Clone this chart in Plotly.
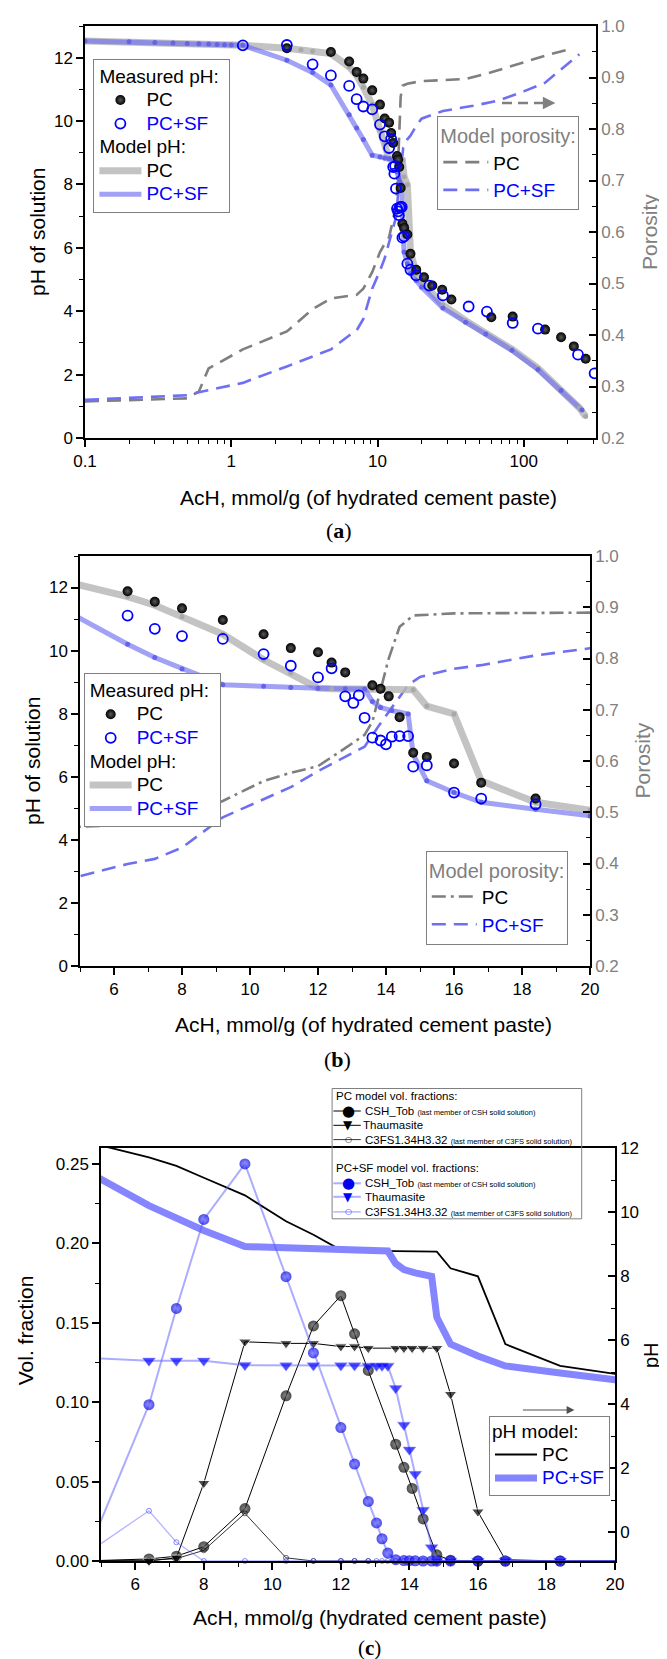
import plotly.graph_objects as go

W, H = 667, 1659

# ---------------- data ----------------
# measured pH
meas_pc_x = [2.4, 4.8, 6.4, 7.2, 8.0, 9.2, 10.4, 11.2, 12.0, 12.4, 12.8, 13.6, 13.84, 14.08, 14.4, 14.8, 15.2,
             16.0, 16.8, 18.4, 20.8, 23.7, 27.7, 32.0, 60.0, 84.0, 140.0, 180.0, 220.0, 265.0]
meas_pc_ph = [12.3, 12.18, 11.88, 11.55, 11.34, 10.97, 10.52, 10.08, 9.95, 9.62, 9.31, 8.9, 8.79, 8.55, 7.89, 6.76,
              6.63, 6.42, 5.81, 5.31, 5.07, 4.81, 4.68, 4.37, 3.81, 3.83, 3.42, 3.18, 2.89, 2.5]
meas_sf_x = [1.2, 2.4, 3.6, 4.8, 6.4, 7.2, 8.0, 9.2, 10.4, 11.2, 12.0, 12.4, 12.8, 13.04, 13.2, 13.37, 13.6, 13.84,
             14.0, 14.17, 14.4, 14.65, 14.8, 15.2, 16.0, 16.8, 18.4, 22.6, 28.0, 42.0, 56.0, 84.0, 125.0, 235.0, 305.0]
meas_sf_ph = [12.39, 12.4, 11.79, 11.44, 11.11, 10.69, 10.46, 10.37, 9.89, 9.52, 9.15, 9.44, 8.55, 8.34, 8.58, 7.87,
              7.24, 7.15, 7.03, 7.27, 7.29, 7.29, 6.32, 6.36, 5.5, 5.31, 5.13, 4.81, 4.5, 4.15, 3.99, 3.63, 3.45,
              2.63, 2.04]

# model pH
model_pc_x = [0.1, 0.2, 0.3, 0.4, 0.5, 0.6, 0.7, 0.8, 0.9, 1.0, 1.2, 2.4, 3.0, 3.6, 4.8, 6.4, 7.2, 8.0, 9.2, 10.4,
              11.2, 12.0, 12.4, 12.8, 13.6, 14.8, 15.2, 16.0, 16.8, 18.4, 20.0, 28.0, 40.0, 55.0, 83.0, 125.0,
              180.0, 240.0, 265.0]
model_pc_ph = [12.53, 12.5, 12.48, 12.46, 12.45, 12.44, 12.43, 12.42, 12.41, 12.4, 12.39, 12.3, 12.25, 12.2, 12.13,
               11.71, 11.44, 11.07, 10.52, 9.71, 9.29, 8.81, 8.79, 8.79, 8.78, 8.76, 8.24, 7.99, 5.87, 5.19, 4.94,
               4.2, 3.7, 3.3, 2.8, 2.2, 1.5, 0.95, 0.68]
model_sf_x = [0.1, 0.2, 0.3, 0.4, 0.5, 0.6, 0.7, 0.8, 0.9, 1.0, 1.2, 2.4, 3.6, 4.8, 6.4, 7.2, 8.0, 9.2, 10.4, 11.2,
              12.0, 12.8, 13.37, 13.6, 13.84, 14.17, 14.65, 14.8, 15.2, 16.0, 16.8, 18.4, 20.0, 28.0, 40.0, 55.0,
              83.0, 125.0, 180.0, 250.0]
model_sf_ph = [12.53, 12.5, 12.48, 12.46, 12.45, 12.44, 12.43, 12.42, 12.41, 12.4, 12.39, 11.92, 11.53, 11.14, 10.2,
               9.78, 9.42, 8.92, 8.87, 8.83, 8.81, 8.79, 8.78, 8.39, 8.2, 8.1, 7.99, 6.71, 5.87, 5.5, 5.19, 4.97,
               4.76, 4.1, 3.65, 3.28, 2.77, 2.16, 1.5, 0.88]

# model porosity
por_pc_x = [0.1, 0.5, 0.6, 0.7, 1.2, 2.4, 3.6, 4.8, 7.2, 8.0, 9.2, 10.4, 11.2, 12.0, 12.8, 13.37, 13.6, 13.84,
            14.08, 14.4, 14.8, 16.0, 20.0, 40.0, 60.0, 100.0, 150.0, 195.0]
por_pc = [0.271, 0.277, 0.29, 0.335, 0.372, 0.407, 0.45, 0.471, 0.478, 0.49, 0.522, 0.561, 0.577, 0.59, 0.625,
          0.651, 0.677, 0.74, 0.80, 0.862, 0.884, 0.888, 0.893, 0.897, 0.91, 0.93, 0.945, 0.953]
por_sf_x = [0.1, 0.5, 0.6, 1.2, 2.4, 4.8, 6.4, 7.2, 8.0, 9.2, 10.4, 11.2, 12.0, 12.8, 13.37, 13.8, 14.17, 14.65,
            15.0, 16.0, 16.8, 18.4, 20.0, 28.0, 45.0, 67.0, 100.0, 140.0, 180.0, 240.0]
por_sf = [0.274, 0.283, 0.289, 0.307, 0.339, 0.372, 0.399, 0.409, 0.431, 0.49, 0.525, 0.549, 0.58, 0.609, 0.628,
          0.67, 0.703, 0.748, 0.764, 0.78, 0.787, 0.806, 0.82, 0.835, 0.845, 0.855, 0.873, 0.89, 0.915, 0.945]

# model volume fractions
vol_pc_x = [4.8, 6.4, 7.2, 8.0, 9.2, 10.4, 11.2, 12.0, 12.4, 12.8, 13.6, 13.84, 14.08, 14.4, 14.8, 15.2, 16.0,
            16.8, 18.4, 20.8]
vol_pc_csh = [0.0002, 0.0013, 0.003, 0.009, 0.033, 0.104, 0.148, 0.167, 0.143, 0.12, 0.0735, 0.059, 0.0457,
              0.0265, 0.0039, 0.0005, 0.0, 0.0, 0.0, 0.0]
vol_pc_thaum = [0.0, 0.0, 0.002, 0.049, 0.138, 0.137, 0.137, 0.135, 0.135, 0.134, 0.134, 0.134, 0.134, 0.134,
                0.134, 0.105, 0.031, 0.0008, 0.0, 0.0]
vol_pc_c3fs = [0.0003, 0.0005, 0.0015, 0.0067, 0.03, 0.002, 0.0, 0.0, 0.0, 0.0, 0.0, 0.0, 0.0, 0.0, 0.0, 0.0,
               0.0, 0.0, 0.0, 0.0]
vol_sf_x = [4.8, 6.4, 7.2, 8.0, 9.2, 10.4, 11.2, 12.0, 12.4, 12.8, 13.04, 13.2, 13.37, 13.6, 13.84, 14.0, 14.17,
            14.4, 14.65, 14.8, 15.2, 16.0, 16.8, 18.4, 20.8]
vol_sf_csh = [0.015, 0.0984, 0.159, 0.215, 0.25, 0.179, 0.131, 0.084, 0.061, 0.0375, 0.024, 0.014, 0.005, 0.0008,
              0.0003, 0.0002, 0.0001, 0.0, 0.0, 0.0, 0.0, 0.0, 0.0, 0.0, 0.0]
vol_sf_thaum = [0.1277, 0.126, 0.126, 0.126, 0.1233, 0.123, 0.123, 0.123, 0.123, 0.1228, 0.1228, 0.1228, 0.1228,
                0.1087, 0.0856, 0.070, 0.0547, 0.0321, 0.0085, 0.0, 0.0, 0.0, 0.0, 0.0, 0.0]
vol_sf_c3fs = [0.008, 0.0316, 0.0118, 0.0, 0.0, 0.0, 0.0, 0.0, 0.0, 0.0, 0.0, 0.0, 0.0, 0.0, 0.0, 0.0, 0.0, 0.0,
               0.0, 0.0, 0.0, 0.0, 0.0, 0.0, 0.0]

log_tick_vals = [0.1, 1, 10, 100]
log_tick_text = ["0.1", "1", "10", "100"]
log_minor_vals = [0.2, 0.3, 0.4, 0.5, 0.6, 0.7, 0.8, 0.9, 2, 3, 4, 5, 6, 7, 8, 9,
                  20, 30, 40, 50, 60, 70, 80, 90, 200, 300]

# ---------------- helpers ----------------
def px(x):
    return x / W


def py(y):
    return 1 - y / H


FONT = "Liberation Sans, Arial, sans-serif"
SERIF = "Liberation Serif, DejaVu Serif, serif"
GREY = "#808080"
BLUE = "#0000ff"
GREY_LINE = "rgba(185,185,185,0.85)"
BLUE_LINE = "rgba(110,110,240,0.65)"


def big(t, color=None, size=19):
    st = "font-size:%spx" % size
    if color:
        st += ";color:%s" % color
    return "<span style='%s'>%s</span>" % (st, t)


fig = go.Figure()

sphere_black = dict(symbol="circle", color="black", size=10,
                    gradient=dict(type="radial", color="#5a5a5a"), line=dict(width=0))
open_blue = dict(symbol="circle-open", color=BLUE, size=10, line=dict(width=1.8, color=BLUE))


def add_ph_panel(xa, ypor, yph, legA, legB, por_pc_dash, grp):
    # porosity (base axis, drawn below)
    fig.add_trace(go.Scatter(x=por_pc_x, y=por_pc, xaxis=xa, yaxis=ypor, mode="lines",
                             line=dict(color="#7f7f7f", width=2.6, dash=por_pc_dash),
                             name="PC", legend=legB, legendrank=1))
    fig.add_trace(go.Scatter(x=por_sf_x, y=por_sf, xaxis=xa, yaxis=ypor, mode="lines",
                             line=dict(color="#6f6ff2", width=2.6, dash="14px,8px"),
                             name=big("PC+SF", BLUE), legend=legB, legendrank=2))
    # model pH lines
    fig.add_trace(go.Scatter(x=model_pc_x, y=model_pc_ph, xaxis=xa, yaxis=yph, mode="lines",
                             line=dict(color=GREY_LINE, width=7), name=big("PC"), legend=legA,
                             legendgroup=grp + "model", legendrank=3,
                             legendgrouptitle=dict(text=big("Model pH:"), font=dict(size=15.8, family=FONT))))
    fig.add_trace(go.Scatter(x=model_sf_x, y=model_sf_ph, xaxis=xa, yaxis=yph, mode="lines",
                             line=dict(color=BLUE_LINE, width=5), name=big("PC+SF", BLUE), legend=legA,
                             legendgroup=grp + "model", legendrank=4))
    fig.add_trace(go.Scatter(x=model_pc_x, y=model_pc_ph, xaxis=xa, yaxis=yph, mode="markers",
                             marker=dict(color="#a8a8a8", size=5), showlegend=False, hoverinfo="skip"))
    fig.add_trace(go.Scatter(x=model_sf_x, y=model_sf_ph, xaxis=xa, yaxis=yph, mode="markers",
                             marker=dict(color="#6464ea", size=5), showlegend=False, hoverinfo="skip"))
    # measured
    fig.add_trace(go.Scatter(x=meas_pc_x, y=meas_pc_ph, xaxis=xa, yaxis=yph, mode="markers",
                             marker=sphere_black, name=big("PC"), legend=legA, legendgroup=grp + "meas",
                             legendrank=1,
                             legendgrouptitle=dict(text=big("Measured pH:"), font=dict(size=15.8, family=FONT))))
    fig.add_trace(go.Scatter(x=meas_sf_x, y=meas_sf_ph, xaxis=xa, yaxis=yph, mode="markers",
                             marker=open_blue, name=big("PC+SF", BLUE), legend=legA, legendgroup=grp + "meas",
                             legendrank=2))


add_ph_panel("x", "y", "y2", "legend", "legend2", "14px,8px", "a")
add_ph_panel("x2", "y3", "y4", "legend3", "legend4", "14px,5px,3px,5px", "b")

# ---- panel c ----
fig.add_trace(go.Scatter(x=model_pc_x, y=model_pc_ph, xaxis="x3", yaxis="y5", mode="lines",
                         line=dict(color="black", width=1.8), name=big("PC"), legend="legend6", legendrank=1))
fig.add_trace(go.Scatter(x=model_sf_x, y=model_sf_ph, xaxis="x3", yaxis="y5", mode="lines",
                         line=dict(color="#8585ff", width=7), name=big("PC+SF", BLUE), legend="legend6",
                         legendrank=2))


def sizes(xs, s):
    return [s if 5 <= v <= 20 else 0 for v in xs]


SF_VOL_LINE = "rgba(90,90,255,0.5)"
fig.add_trace(go.Scatter(
    x=vol_pc_x, y=vol_pc_csh, xaxis="x3", yaxis="y6", mode="lines+markers", cliponaxis=False,
    line=dict(color="black", width=1), showlegend=False,
    marker=dict(symbol="circle", color="black", size=sizes(vol_pc_x, 11),
                gradient=dict(type="radial", color="#5a5a5a"), line=dict(width=0))))
fig.add_trace(go.Scatter(
    x=vol_pc_x, y=vol_pc_thaum, xaxis="x3", yaxis="y6", mode="lines+markers", cliponaxis=False,
    line=dict(color="black", width=1), showlegend=False,
    marker=dict(symbol="triangle-down", color="black", size=sizes(vol_pc_x, 11))))
fig.add_trace(go.Scatter(
    x=vol_pc_x, y=vol_pc_c3fs, xaxis="x3", yaxis="y6", mode="lines+markers", cliponaxis=False,
    line=dict(color="black", width=0.8), showlegend=False,
    marker=dict(symbol="circle-open", color="black", size=sizes(vol_pc_x, 5), line=dict(width=0.8))))
fig.add_trace(go.Scatter(
    x=vol_sf_x, y=vol_sf_csh, xaxis="x3", yaxis="y6", mode="lines+markers", cliponaxis=False,
    line=dict(color=SF_VOL_LINE, width=2), showlegend=False,
    marker=dict(symbol="circle", color="#0000e0", size=sizes(vol_sf_x, 11),
                gradient=dict(type="radial", color="#7070ff"), line=dict(width=0))))
fig.add_trace(go.Scatter(
    x=vol_sf_x, y=vol_sf_thaum, xaxis="x3", yaxis="y6", mode="lines+markers", cliponaxis=False,
    line=dict(color=SF_VOL_LINE, width=2), showlegend=False,
    marker=dict(symbol="triangle-down", color="#0000ff", size=sizes(vol_sf_x, 11))))
fig.add_trace(go.Scatter(
    x=vol_sf_x, y=vol_sf_c3fs, xaxis="x3", yaxis="y6", mode="lines+markers", cliponaxis=False,
    line=dict(color="rgba(90,90,255,0.45)", width=1.3), showlegend=False,
    marker=dict(symbol="circle-open", color="#3030ff", size=sizes(vol_sf_x, 5), line=dict(width=0.8))))

# ---------------- axes ----------------
tf = dict(family=FONT, size=17, color="black")
tfg = dict(family=FONT, size=17, color=GREY)
base = dict(showgrid=False, zeroline=False, showline=True, linecolor="black", linewidth=1.5,
            tickcolor="black", tickwidth=1.5, ticklen=7, fixedrange=True, automargin=False)
mn = dict(ticklen=4, tickwidth=1.2, tickcolor="black", showgrid=False)

dom_a_x = [px(77), px(588)]
dom_a_y = [py(430), py(18)]
dom_b_x = [px(72), px(582)]
dom_b_y = [py(958), py(548)]
dom_c_x = [px(93), px(607)]
dom_c_y = [py(1553), py(1140)]

lay = {}
lay["xaxis"] = dict(base, domain=dom_a_x, anchor="y", type="log", range=[-1, 2.494], mirror=True,
                    ticks="outside", tickmode="array", tickvals=log_tick_vals, ticktext=log_tick_text,
                    tickfont=tf, minor=dict(mn, ticks="outside", tickmode="array", tickvals=log_minor_vals))
lay["yaxis"] = dict(base, domain=dom_a_y, anchor="x", side="right", range=[0.2, 1.0], dtick=0.1, tick0=0,
                    tickformat=".1f", ticks="inside", tickfont=tfg, minor=dict(mn, ticks="inside", dtick=0.05))
lay["yaxis2"] = dict(base, overlaying="y", anchor="x", side="left", range=[0, 13], dtick=2, tick0=0,
                     ticks="outside", tickfont=tf, minor=dict(mn, ticks="outside", dtick=1))

lay["xaxis2"] = dict(base, domain=dom_b_x, anchor="y3", range=[5, 20], dtick=2, tick0=0, mirror=True,
                     ticks="outside", tickfont=tf, minor=dict(mn, ticks="outside", dtick=1))
lay["yaxis3"] = dict(base, domain=dom_b_y, anchor="x2", side="right", range=[0.2, 1.0], dtick=0.1, tick0=0,
                     tickformat=".1f", ticks="inside", tickfont=tfg, minor=dict(mn, ticks="inside", dtick=0.05))
lay["yaxis4"] = dict(base, overlaying="y3", anchor="x2", side="left", range=[0, 13], dtick=2, tick0=0,
                     ticks="outside", tickfont=tf, minor=dict(mn, ticks="outside", dtick=1))

lay["xaxis3"] = dict(base, domain=dom_c_x, anchor="y5", range=[5, 20], dtick=2, tick0=0, mirror=True,
                     ticks="outside", tickfont=tf, minor=dict(mn, ticks="outside", dtick=1))
lay["yaxis5"] = dict(base, domain=dom_c_y, anchor="x3", side="right", range=[-0.906, 12], dtick=2, tick0=0,
                     ticks="inside", tickfont=tf, minor=dict(mn, ticks="inside", dtick=1))
lay["yaxis6"] = dict(base, overlaying="y5", anchor="x3", side="left", range=[0, 0.26], dtick=0.05, tick0=0,
                     tickformat=".2f", ticks="outside", tickfont=tf, minor=dict(mn, ticks="outside", dtick=0.025))

# ---------------- legends ----------------
def leg(x, y, size, **kw):
    d = dict(x=px(x), y=py(y), xanchor="left", yanchor="top", xref="paper", yref="paper", bgcolor="white",
             bordercolor=GREY, borderwidth=1, font=dict(family=FONT, size=size, color="black"),
             traceorder="grouped", itemwidth=42)
    d.update(kw)
    return d


lay["legend"] = leg(85.4, 50.7, 15.8, tracegroupgap=0)
lay["legend2"] = leg(429.3, 108.3, 19, itemwidth=45,
                     title=dict(text="Model porosity:", font=dict(size=20, color=GREY, family=FONT)))
lay["legend3"] = leg(75.7, 665, 15.8, tracegroupgap=0)
lay["legend4"] = leg(417.8, 842.7, 19, itemwidth=45,
                     title=dict(text="Model porosity:", font=dict(size=20, color=GREY, family=FONT)))
lay["legend6"] = leg(481, 1408.2, 15.8,
                     title=dict(text=big("pH model:"), font=dict(size=15.8, color="black", family=FONT)))

# ---------------- annotations ----------------
def ann(text, x, y, size=21, color="black", angle=0, family=FONT, xanchor="center"):
    return dict(text=text, x=px(x), y=py(y), xref="paper", yref="paper", showarrow=False,
                xanchor=xanchor, yanchor="middle", textangle=angle,
                font=dict(family=family, size=size, color=color))


annotations = [
    ann("pH of solution", 29, 224, angle=-90),
    ann("Porosity", 641, 224, color=GREY, angle=-90),
    ann("AcH, mmol/g (of hydrated cement paste)", 360, 490),
    ann("(<b>a</b>)", 331, 522, size=22, family=SERIF),
    ann("pH of solution", 25, 753, angle=-90),
    ann("Porosity", 634.5, 753, color=GREY, angle=-90),
    ann("AcH, mmol/g (of hydrated cement paste)", 355, 1016),
    ann("(<b>b</b>)", 329, 1051, size=22, family=SERIF),
    ann("Vol. fraction", 17.3, 1322, angle=-90),
    ann("pH", 643, 1347, size=20, angle=-90),
    ann("AcH, mmol/g (hydrated cement paste)", 362, 1609),
    ann("(<b>c</b>)", 361, 1640, size=21, family=SERIF),
    dict(text="", x=px(547.4), y=py(95), xref="paper", yref="paper", showarrow=True, ax=-14, ay=0,
         arrowhead=2, arrowsize=1, arrowwidth=2.5, arrowcolor=GREY),
    dict(text="", x=px(566.4), y=py(1402), xref="paper", yref="paper", showarrow=True, ax=-53, ay=0,
         arrowhead=2, arrowsize=1.3, arrowwidth=1.2, arrowcolor="#505050"),
]

shapes = [
    dict(type="line", xref="paper", yref="paper", x0=px(494), x1=px(536), y0=py(95), y1=py(95),
         line=dict(color=GREY, width=2.5, dash="10px,6px")),
]

# ---- vol-fraction key (panel c), drawn as text and rules ----
SM = "<span style='font-size:7.5px'>%s</span>"
key_rows = [
    # (y, kind, colour, line colour, line width, label, text x)
    (1088.2, "title", "black", None, 0, "PC model vol. fractions:", 325.8),
    (1103.0, "ball", "black", "black", 1, "CSH_Tob " + SM % "(last member of CSH solid solution)", 355.3),
    (1117.3, "tri", "black", "black", 1, "Thaumasite", 352.8),
    (1131.6, "ring", "black", "black", 0.8, "C3FS1.34H3.32 " + SM % "(last member of C3FS solid solution)", 355.3),
    (1160.2, "title", "black", None, 0, "PC+SF model vol. fractions:", 325.8),
    (1175.3, "ball", "#0000ee", SF_VOL_LINE, 2, "CSH_Tob " + SM % "(last member of CSH solid solution)", 355.3),
    (1188.8, "tri", "#0000ff", SF_VOL_LINE, 2, "Thaumasite", 355.3),
    (1203.9, "ring", "#3030ff", SF_VOL_LINE, 1.3, "C3FS1.34H3.32 " + SM % "(last member of C3FS solid solution)", 355.3),
]
glyph = {"ball": ("\u25CF", 15), "tri": ("\u25BC", 12), "ring": ("\u25CB", 8)}
shapes.append(dict(type="rect", xref="paper", yref="paper", x0=px(324.1), x1=px(573.7),
                   y0=py(1210.8), y1=py(1080.5), line=dict(color=GREY, width=1)))
for (yy, kind, col, lcol, lw, label, tx) in key_rows:
    annotations.append(ann(label, tx, yy, size=11.5, xanchor="left"))
    if kind == "title":
        continue
    shapes.append(dict(type="line", xref="paper", yref="paper", x0=px(325.4), x1=px(352.8),
                       y0=py(yy), y1=py(yy), line=dict(color=lcol, width=lw)))
    g, gs = glyph[kind]
    annotations.append(ann(g, 340, yy, size=gs, color=col, family="DejaVu Sans"))

fig.update_layout(
    template="none",
    width=W, height=H, margin=dict(l=0, r=0, t=0, b=0, pad=0), autosize=False,
    paper_bgcolor="white", plot_bgcolor="white", showlegend=True,
    annotations=annotations, shapes=shapes, font=dict(family=FONT, color="black"),
    **lay,
)

fig.write_html("out.html", config={"displayModeBar": False})
